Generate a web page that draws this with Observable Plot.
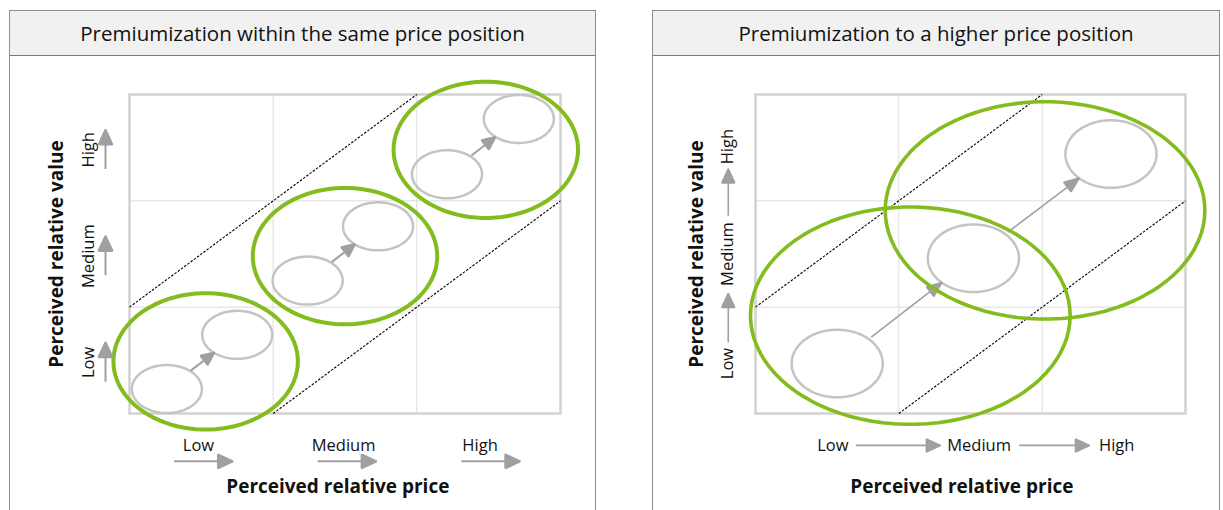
<!DOCTYPE html>
<html><head><meta charset="utf-8">
<script src="https://cdn.jsdelivr.net/npm/d3@7"></script>
<script src="https://cdn.jsdelivr.net/npm/@observablehq/plot@0.6"></script>
<style>
html,body{margin:0;padding:0;background:#fff;width:1223px;height:510px;overflow:hidden;font-family:"Open Sans",sans-serif;}
.panel{position:absolute;top:10px;height:520px;box-sizing:border-box;border:1.5px solid #8d8d8d;border-bottom:none;}
.title{height:45px;box-sizing:border-box;background:#f0f1f0;border-bottom:1.5px solid #7a7a7a;display:flex;align-items:center;justify-content:center;font-size:20.5px;color:#111;}
.chart{position:absolute;top:57px;}
</style></head><body>
<div class="panel" style="left:9px;width:587px"><div class="title" id="t1"></div></div>
<div class="panel" style="left:652px;width:568px"><div class="title" id="t2"></div></div>
<div class="chart" id="c1" style="left:11px"></div>
<div class="chart" id="c2" style="left:654px"></div>
<script>
// ---------- data ----------
const panelTitles = ["Premiumization within the same price position", "Premiumization to a higher price position"];
const levels = ["Low", "Medium", "High"];
const xTitle = "Perceived relative price";
const yTitle = "Perceived relative value";

// Left panel: product positions (perceived price, perceived value) in grid cells
const sameFrom = [{x: 0.26, y: 0.23}, {x: 1.24, y: 1.25}, {x: 2.21, y: 2.25}];
const sameTo   = [{x: 0.75, y: 0.74}, {x: 1.73, y: 1.76}, {x: 2.71, y: 2.77}];
const sameZones = [{x: 0.53, y: 0.49}, {x: 1.50, y: 1.48}, {x: 2.48, y: 2.48}];

// Right panel
const higherSteps = [{x: 0.57, y: 0.47}, {x: 1.52, y: 1.46}, {x: 2.48, y: 2.44}];
const higherZones = [{x: 1.08, y: 0.92}, {x: 2.02, y: 1.91}];

// Equal price-value corridor boundaries
const corridor = [{x1: 0, y1: 1, x2: 2, y2: 3}, {x1: 1, y1: 0, x2: 3, y2: 2}];

// ---------- helpers ----------
const NS = "http://www.w3.org/2000/svg";
function head(L, W) {
  return (color) => {
    const m = document.createElementNS(NS, "marker");
    m.setAttribute("viewBox", `${-L} ${-W / 2} ${L} ${W}`);
    m.setAttribute("markerUnits", "userSpaceOnUse");
    m.setAttribute("markerWidth", L);
    m.setAttribute("markerHeight", W);
    m.setAttribute("refX", 0);
    m.setAttribute("refY", 0);
    m.setAttribute("orient", "auto");
    m.setAttribute("overflow", "visible");
    const p = document.createElementNS(NS, "path");
    p.setAttribute("d", `M${-L},${-W / 2}L0,0L${-L},${W / 2}Z`);
    p.setAttribute("fill", color);
    m.appendChild(p);
    return m;
  };
}
function outline(list, rx, ry) {
  const n = 90;
  return list.flatMap((e, k) => d3.range(n).map(i => {
    const t = 2 * Math.PI * i / n;
    return {k, x: e.x + rx * Math.cos(t), y: e.y + ry * Math.sin(t)};
  }));
}
function between(a, b, t1, t2) {
  return a.map((p, i) => ({
    x1: p.x + (b[i].x - p.x) * t1, y1: p.y + (b[i].y - p.y) * t1,
    x2: p.x + (b[i].x - p.x) * t2, y2: p.y + (b[i].y - p.y) * t2
  }));
}
const GREEN = "#84bb1e", GREY = "#c4c4c4", ARROW = "#a0a0a0", INK = "#111";
const base = (width, ml, mr) => ({
  width, height: 453, marginLeft: ml, marginRight: mr, marginTop: 37, marginBottom: 97,
  x: {domain: [0, 3], axis: null}, y: {domain: [0, 3], axis: null},
  style: {fontFamily: "Open Sans, sans-serif", background: "transparent", overflow: "visible"}
});
const gridMarks = () => [
  Plot.ruleX([1, 2], {stroke: "#dcdcdc", strokeWidth: 1}),
  Plot.ruleY([1, 2], {stroke: "#dcdcdc", strokeWidth: 1}),
  Plot.frame({stroke: "#d2d2d2", strokeWidth: 2.5}),
  Plot.link(corridor, {x1: "x1", y1: "y1", x2: "x2", y2: "y2", stroke: "#000", strokeWidth: 1.1, strokeDasharray: "2.5,1.5"})
];

document.getElementById("t1").textContent = panelTitles[0];
document.getElementById("t2").textContent = panelTitles[1];

// ---------- left panel ----------
const lvl = levels.map((t, i) => ({t, i}));
const lxLab = [0.48, 1.49, 2.44];
const left = Plot.plot({
  ...base(583, 118, 34),
  marks: [
    ...gridMarks(),
    Plot.line(outline([...sameFrom, ...sameTo], 0.244, 0.226), {x: "x", y: "y", z: "k", curve: "linear-closed", stroke: GREY, strokeWidth: 2.5}),
    Plot.link(between(sameFrom, sameTo, 0.34, 0.675), {x1: "x1", y1: "y1", x2: "x2", y2: "y2", stroke: ARROW, strokeWidth: 2, markerEnd: head(13, 12)}),
    Plot.line(outline(sameZones, 0.642, 0.641), {x: "x", y: "y", z: "k", curve: "linear-closed", stroke: GREEN, strokeWidth: 4}),
    // x axis labels & arrows
    Plot.text(lvl, {x: d => lxLab[d.i], y: -0.30, text: "t", fontSize: 16.5, fill: INK}),
    Plot.link(lvl, {x1: d => d.i + 0.31, x2: d => d.i + 0.72, y1: -0.45, y2: -0.45, stroke: ARROW, strokeWidth: 2, markerEnd: head(15, 14)}),
    Plot.text([xTitle], {x: 1.45, y: -0.69, text: d => d, fontSize: 19, fontWeight: "bold", fill: INK}),
    // y axis labels & arrows
    Plot.text(lvl, {x: -0.285, y: d => d.i + 0.48, text: "t", rotate: -90, fontSize: 16.5, fill: INK}),
    Plot.link(lvl, {x1: -0.167, x2: -0.167, y1: d => d.i + 0.30, y2: d => d.i + 0.67, stroke: ARROW, strokeWidth: 2, markerEnd: head(15, 14)}),
    Plot.text([yTitle], {x: -0.503, y: 1.5, text: d => d, rotate: -90, fontSize: 19, fontWeight: "bold", fill: INK})
  ]
});
document.getElementById("c1").appendChild(left);

// ---------- right panel ----------
const xLab = [0.54, 1.56, 2.52], xArr = [[0.70, 1.29], [1.84, 2.33]];
const yLab = [0.47, 1.50, 2.51], yArr = [[0.67, 1.13], [1.86, 2.30]];
const right = Plot.plot({
  ...base(564, 101, 33),
  marks: [
    ...gridMarks(),
    Plot.line(outline(higherSteps, 0.318, 0.318), {x: "x", y: "y", z: "k", curve: "linear-closed", stroke: GREY, strokeWidth: 2.5}),
    Plot.link(between(higherSteps.slice(0, 2), higherSteps.slice(1), 0.25, 0.77), {x1: "x1", y1: "y1", x2: "x2", y2: "y2", stroke: ARROW, strokeWidth: 1.6, markerEnd: head(15, 12)}),
    Plot.line(outline(higherZones, 1.115, 1.022), {x: "x", y: "y", z: "k", curve: "linear-closed", stroke: GREEN, strokeWidth: 3.6}),
    Plot.text(lvl, {x: d => xLab[d.i], y: -0.30, text: "t", fontSize: 16.5, fill: INK}),
    Plot.link(xArr, {x1: d => d[0], x2: d => d[1], y1: -0.30, y2: -0.30, stroke: ARROW, strokeWidth: 1.6, markerEnd: head(14, 13)}),
    Plot.text([xTitle], {x: 1.44, y: -0.69, text: d => d, fontSize: 19, fontWeight: "bold", fill: INK}),
    Plot.text(lvl, {x: -0.197, y: d => yLab[d.i], text: "t", rotate: -90, fontSize: 16.5, fill: INK}),
    Plot.link(yArr, {x1: -0.19, x2: -0.19, y1: d => d[0], y2: d => d[1], stroke: ARROW, strokeWidth: 1.6, markerEnd: head(14, 13)}),
    Plot.text([yTitle], {x: -0.407, y: 1.5, text: d => d, rotate: -90, fontSize: 19, fontWeight: "bold", fill: INK})
  ]
});
document.getElementById("c2").appendChild(right);
</script>
</body></html>
